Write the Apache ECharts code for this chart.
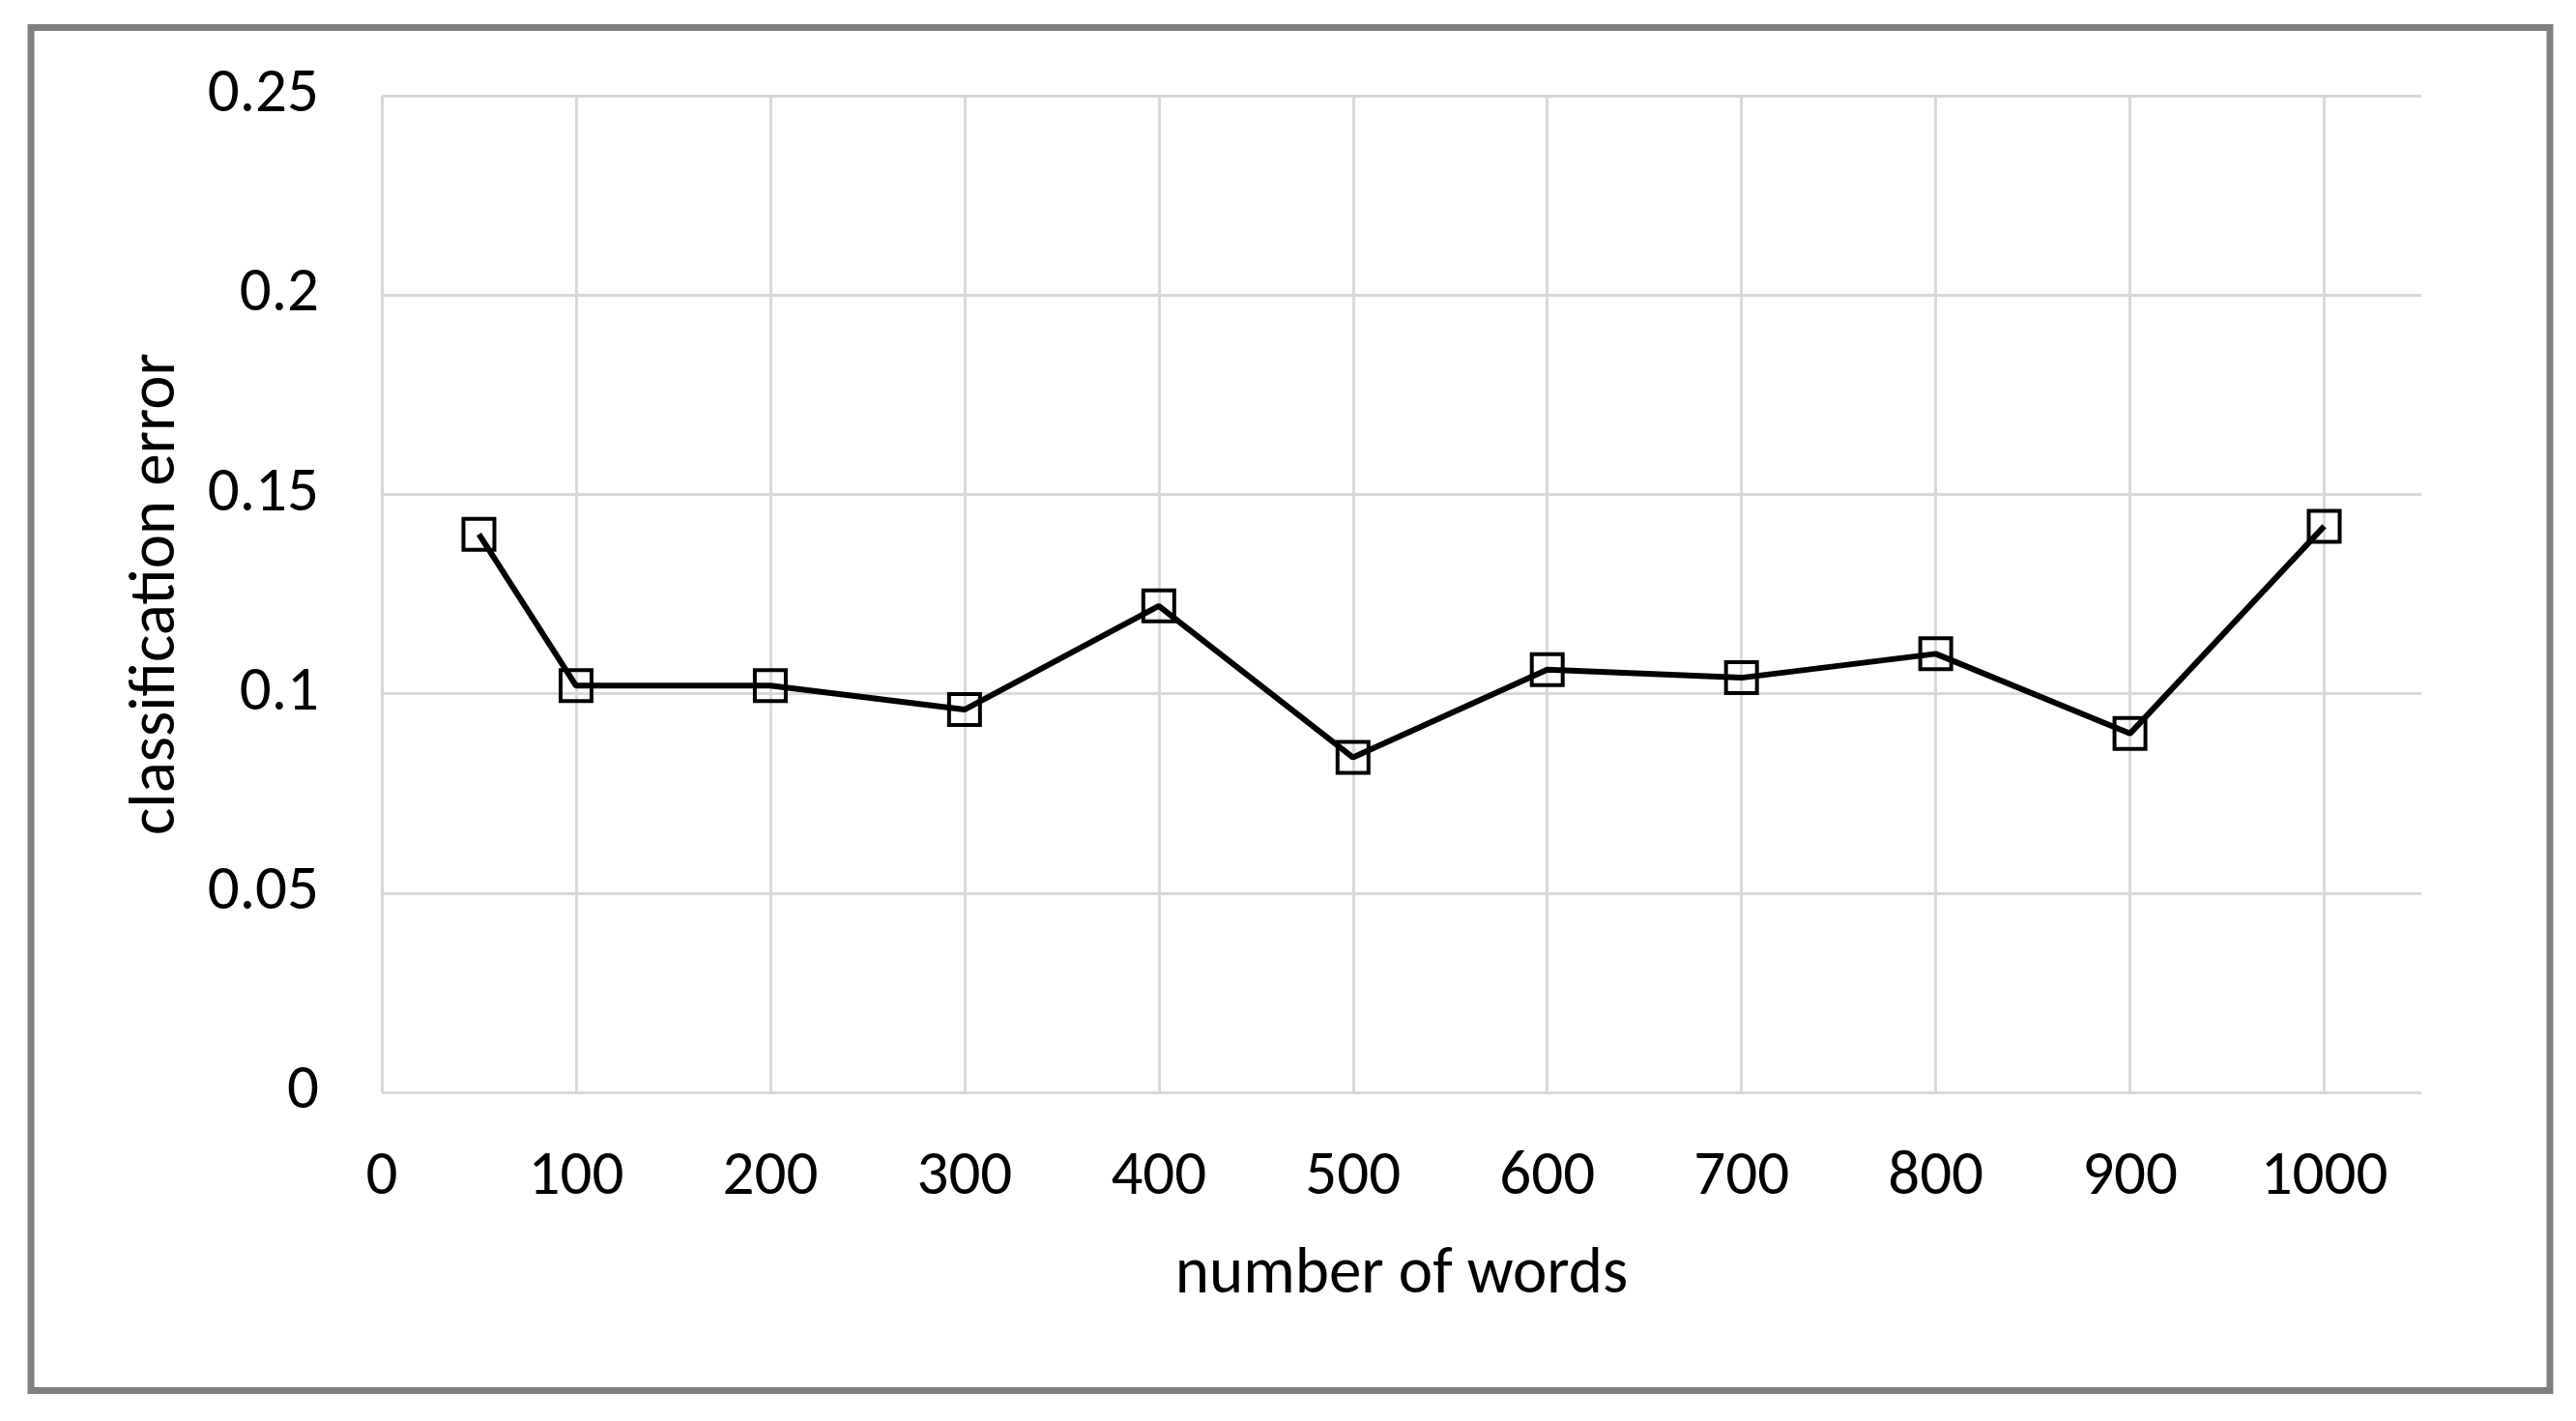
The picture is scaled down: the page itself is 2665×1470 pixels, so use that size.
<!DOCTYPE html>
<html>
<head>
<meta charset="utf-8">
<script src="https://cdn.jsdelivr.net/npm/echarts@6/dist/echarts.min.js"></script>
<style>
html,body{margin:0;padding:0;background:#fff;}
#chart{width:2665px;height:1470px;}
</style>
</head>
<body>
<div id="chart"></div>
<script>
const numberOfWords = [50, 100, 200, 300, 400, 500, 600, 700, 800, 900, 1000];
const classificationError = [0.140, 0.102, 0.102, 0.096, 0.122, 0.084, 0.106, 0.104, 0.110, 0.090, 0.142];
const xAxisTitle = 'number of words';
const yAxisTitle = 'classification error';

const FONT = 'Carlito, Lato, sans-serif';
const chart = echarts.init(document.getElementById('chart'), null, {renderer: 'canvas'});
chart.setOption({
  backgroundColor: '#ffffff',
  animation: false,
  graphic: [{
    type: 'rect',
    shape: {x: 32, y: 28.5, width: 2606, height: 1410},
    style: {fill: 'none', stroke: '#808080', lineWidth: 7},
    silent: true,
    z: -1
  }],
  grid: {left: 395, right: 160, top: 99, bottom: 340, containLabel: false},
  xAxis: {
    type: 'value',
    min: 0, max: 1050, interval: 100,
    name: xAxisTitle,
    nameLocation: 'middle',
    nameGap: 157,
    nameTextStyle: {fontFamily: FONT, fontSize: 67, color: '#000'},
    axisLine: {show: false},
    axisTick: {show: false},
    axisLabel: {fontFamily: FONT, fontSize: 65, color: '#000', margin: 56, showMaxLabel: false,
      formatter: v => String(v)},
    splitLine: {show: true, showMaxLine: false, lineStyle: {color: '#d9d9d9', width: 3}}
  },
  yAxis: {
    type: 'value',
    min: 0, max: 0.25, interval: 0.05,
    name: yAxisTitle,
    nameLocation: 'middle',
    nameGap: 198,
    nameTextStyle: {fontFamily: FONT, fontSize: 67, color: '#000'},
    axisLine: {show: false},
    axisTick: {show: false},
    axisLabel: {fontFamily: FONT, fontSize: 65, color: '#000', margin: 65,
      formatter: v => String(+v.toFixed(2))},
    splitLine: {show: true, lineStyle: {color: '#d9d9d9', width: 3}}
  },
  series: [{
    type: 'line',
    data: numberOfWords.map((x, i) => [x, classificationError[i]]),
    symbol: 'rect',
    symbolSize: 32,
    lineStyle: {color: '#000', width: 6},
    itemStyle: {color: 'transparent', borderColor: '#000', borderWidth: 4},
    z: 3
  }]
});
</script>
</body>
</html>
